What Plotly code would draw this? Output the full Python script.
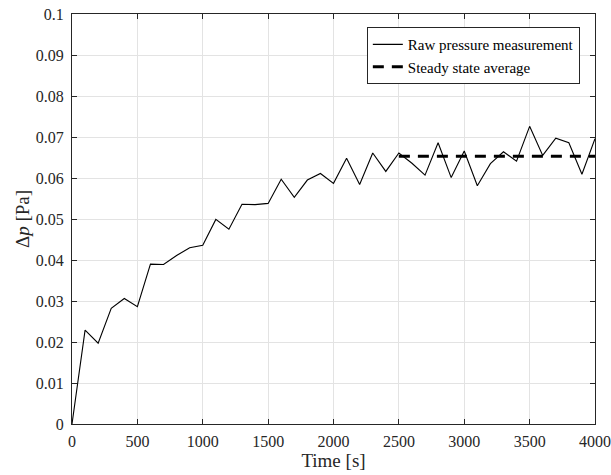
import plotly.graph_objects as go

time_s = [0, 100, 200, 300, 400, 500, 600, 700, 800, 900, 1000,
          1100, 1200, 1300, 1400, 1500, 1600, 1700, 1800, 1900, 2000,
          2100, 2200, 2300, 2400, 2500, 2600, 2700, 2800, 2900, 3000,
          3100, 3200, 3300, 3400, 3500, 3600, 3700, 3800, 3900, 4000]
pressure = [0.0, 0.0229, 0.0197, 0.0282, 0.0306, 0.0286, 0.0390, 0.0389, 0.0411, 0.0430, 0.0436,
            0.0499, 0.0475, 0.0536, 0.0535, 0.0538, 0.0597, 0.0553, 0.0595, 0.0611, 0.0587,
            0.0648, 0.0584, 0.0661, 0.0616, 0.0661, 0.0636, 0.0607, 0.0686, 0.0601, 0.0666,
            0.0581, 0.0635, 0.0664, 0.0641, 0.0726, 0.0655, 0.0697, 0.0686, 0.0609, 0.0696]
avg_time = [2500, 4000]
avg_value = [0.0653, 0.0653]

x_ticks = [0, 500, 1000, 1500, 2000, 2500, 3000, 3500, 4000]
y_ticks = [0, 0.01, 0.02, 0.03, 0.04, 0.05, 0.06, 0.07, 0.08, 0.09, 0.1]
y_tick_text = ["0", "0.01", "0.02", "0.03", "0.04", "0.05", "0.06", "0.07", "0.08", "0.09", "0.1"]

FONT = "Liberation Serif"
INK = "#262626"

fig = go.Figure()
fig.add_trace(go.Scatter(x=time_s, y=pressure, mode="lines",
                         line=dict(color="black", width=1.1),
                         name="Raw pressure measurement"))
fig.add_trace(go.Scatter(x=avg_time, y=avg_value, mode="lines",
                         line=dict(color="black", width=3, dash="11px,8px"),
                         name="Steady state average"))

axis_common = dict(showline=True, linecolor=INK, linewidth=1, mirror="ticks",
                   ticks="inside", ticklen=5, tickcolor=INK,
                   showgrid=True, gridcolor="#e3e3e3", gridwidth=1,
                   zeroline=False, automargin=False,
                   tickfont=dict(family=FONT, size=16, color=INK))

fig.update_xaxes(range=[0, 4000], tickvals=x_ticks, ticklabelstandoff=3,
                 title=dict(text="Time [s]", font=dict(family=FONT, size=19, color=INK), standoff=2),
                 **axis_common)
fig.update_yaxes(range=[0, 0.1], tickvals=y_ticks, ticktext=y_tick_text, ticklabelstandoff=4,
                 title=dict(text="Δ<i>p</i> [Pa]", font=dict(family=FONT, size=19, color=INK), standoff=1),
                 **axis_common)

fig.update_layout(
    width=611, height=475,
    margin=dict(l=72, r=16, t=14, b=51),
    plot_bgcolor="white", paper_bgcolor="white",
    legend=dict(x=0.971, y=0.968, xanchor="right", yanchor="top",
                bgcolor="white", bordercolor=INK, borderwidth=1,
                font=dict(family=FONT, size=15, color="black"),
                tracegroupgap=0, itemwidth=30),
    showlegend=True,
)

fig.write_html("out.html", config={"displayModeBar": False},
               post_script="document.body.style.margin='0';document.body.style.overflow='hidden';")
